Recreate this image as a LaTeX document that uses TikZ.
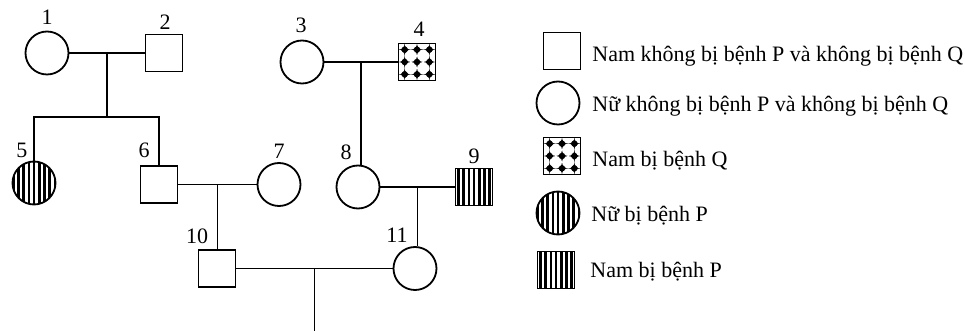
\documentclass[tikz,border=0pt]{standalone}
\usepackage{fontspec}
\setmainfont{Liberation Serif}
\usetikzlibrary{calc,positioning}
\tikzset{%
	male/.style    = {draw, rectangle, minimum size=18.5pt, inner sep=0pt, line width=0.9pt},
	female/.style  = {draw, circle, minimum size=21.5pt, inner sep=0pt, line width=0.9pt},
	pstripe/.style = {path picture={\foreach \i in {-6,...,6} \fill ([xshift=\i*2.6pt-0.65pt,yshift=-12pt]path picture bounding box.center) rectangle ++(1.3pt,24pt);}},
	qdots/.style   = {path picture={\fill (path picture bounding box.south west) rectangle (path picture bounding box.north east);
		\foreach \i in {0,...,3} \foreach \j in {0,...,3} \fill[white] ([xshift=\i*6.17pt,yshift=\j*6.17pt]path picture bounding box.south west) circle (3.05pt);
		\foreach \i in {0,...,2} \foreach \j in {0,...,2} \fill ([xshift=\i*6.17pt+3.08pt,yshift=\j*6.17pt+3.08pt]path picture bounding box.south west) circle (1.6pt);}},
	num/.style     = {inner sep=0pt},
	legtext/.style = {anchor=base west, inner sep=0pt},
	line/.style    = {line width=0.7pt},
}

\begin{document}
\begin{tikzpicture}[x=0.5pt,y=-0.5pt,font=\fontsize{11}{13}\selectfont]
	\useasboundingbox (0,0) rectangle (965,331);
	% pedigree
	\node[female] (f1) at (47,53) {};
	\node[male] (m2) at (164,53) {};
	\node[female] (f3) at (302,62) {};
	\node[male,qdots] (m4) at (417,62) {};
	\node[female,pstripe] (f5) at (34,183) {};
	\node[male] (m6) at (159,184.5) {};
	\node[female] (f7) at (279,184.5) {};
	\node[female] (f8) at (358,187) {};
	\node[male,pstripe] (m9) at (474,187) {};
	\node[male] (m10) at (217,268.5) {};
	\node[female] (f11) at (415,268.5) {};
	
	\node[num] (n1) at (47,17) {1};
	\node[num] (n2) at (165,22) {2};
	\node[num] (n3) at (301,25) {3};
	\node[num] (n4) at (419,29) {4};
	\node[num] (n5) at (22,150) {5};
	\node[num] (n6) at (144,150) {6};
	\node[num] (n7) at (279,151) {7};
	\node[num] (n8) at (346,152) {8};
	\node[num] (n9) at (474,156) {9};
	\node[num] (n10) at (197,236) {10};
	\node[num] (n11) at (397,235) {11};
	
	\draw[line] (f1) -- coordinate (u12) (m2);
	\draw[line] (u12) -- ++(0,64) coordinate (s56);
	\draw[line] (f5.north) |- (s56) -| (m6.north);
	\draw[line] (f3) -- coordinate (u34) (m4);
	\draw[line] (u34) -- (u34 |- f8.north);
	\draw[line] (m6) -- coordinate (u67) (f7);
	\draw[line] (u67) -- (u67 |- m10.north);
	\draw[line] (f8) -- coordinate (u89) (m9);
	\draw[line] (u89) -- (u89 |- f11.north);
	\draw[line] (m10) -- coordinate (u1011) (f11);
	\draw[line] (u1011) -- ++(0,63);
	
	% legend
	\node[male] (k1) at (562,51) {};
	\node[legtext] (t1) at (592,62) {Nam không bị bệnh P và không bị bệnh Q};
	\node[female] (k2) at (558,103) {};
	\node[legtext] (t2) at (592,112) {Nữ không bị bệnh P và không bị bệnh Q};
	\node[male,qdots] (k3) at (562,156) {};
	\node[legtext] (t3) at (592,167) {Nam bị bệnh Q};
	\node[female,pstripe] (k4) at (558,213) {};
	\node[legtext] (t4) at (591,222) {Nữ bị bệnh P};
	\node[male,pstripe] (k5) at (556,270) {};
	\node[legtext] (t5) at (590,278) {Nam bị bệnh P};
\end{tikzpicture}
\end{document}
